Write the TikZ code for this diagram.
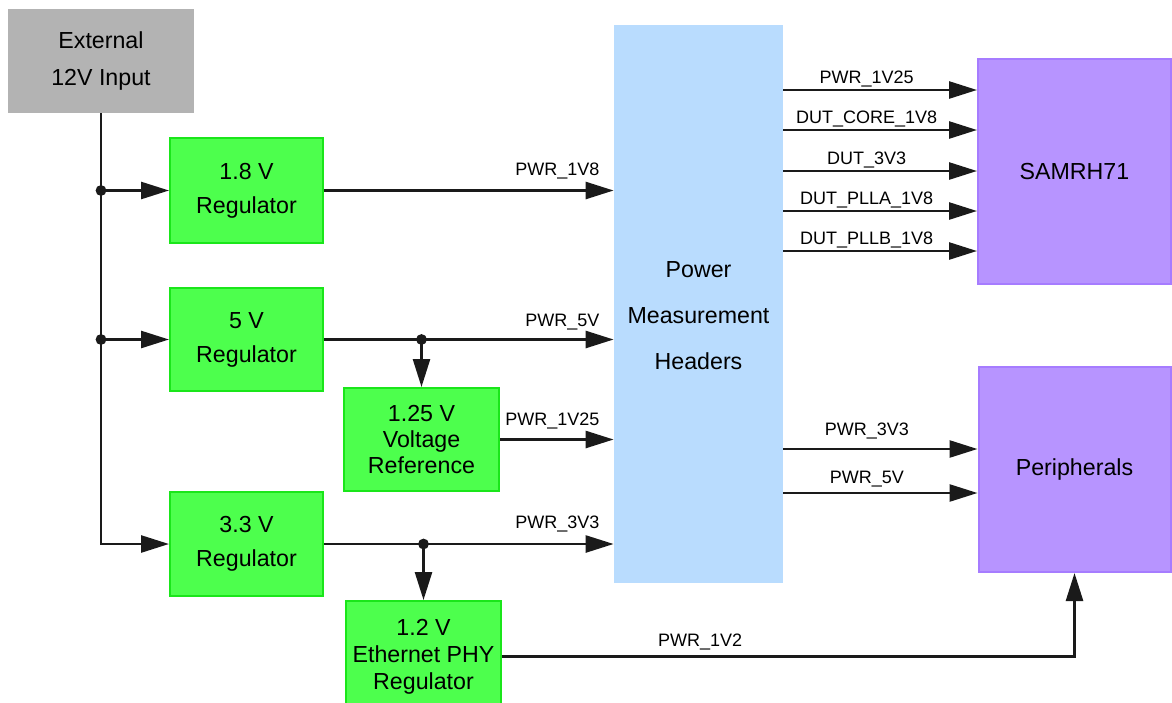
\documentclass[tikz,border=0pt]{standalone}
\usepackage{fontspec}
\setmainfont{Liberation Sans}
\usetikzlibrary{arrows.meta}
\definecolor{linec}{RGB}{26,26,26}
\definecolor{grayfill}{RGB}{179,179,179}
\definecolor{greenfill}{RGB}{77,255,77}
\definecolor{greenline}{RGB}{26,230,26}
\definecolor{bluefill}{RGB}{185,220,254}
\definecolor{purplefill}{RGB}{183,148,255}
\definecolor{purpleline}{RGB}{166,124,255}
\begin{document}
\begin{tikzpicture}[x=0.5pt,y=-0.5pt,
  boxtext/.style={font=\fontsize{11.6}{17}\selectfont, align=center, text=black},
  greenbox/.style={boxtext, draw=greenline, fill=greenfill, line width=1pt, inner sep=0pt},
  graybox/.style={boxtext, fill=grayfill, inner sep=0pt, font=\fontsize{11.6}{18.5}\selectfont},
  bluebox/.style={fill=bluefill, inner sep=0pt},
  purplebox/.style={boxtext, draw=purpleline, fill=purplefill, line width=1pt, inner sep=0pt},
  wire/.style={draw=linec, line width=1.3pt},
  arr/.style={wire, -{Triangle[length=14pt,width=8.5pt]}},
  lbl/.style={font=\fontsize{9}{11}\selectfont, inner sep=0pt, text=black},
  dotc/.style={fill=linec}
]
\useasboundingbox (0,0) rectangle (1172,702);
\fill[white] (0,0) rectangle (1172,702);

% boxes
\node[graybox, minimum width=93pt, minimum height=52pt] (ext) at (101,61) {External\\12V Input};
\node[greenbox, minimum width=76.5pt, minimum height=52.5pt] (reg18) at (246.5,190.5) {1.8 V\\Regulator};
\node[greenbox, minimum width=76.5pt, minimum height=51.5pt] (reg5) at (246.5,339.5) {5 V\\Regulator};
\node[greenbox, minimum width=76.5pt, minimum height=52pt] (reg33) at (246.5,544) {3.3 V\\Regulator};
\node[greenbox, minimum width=77.5pt, minimum height=51.5pt, font=\fontsize{11.6}{13}\selectfont] (ref125) at (421.5,439.5) {1.25 V\\Voltage\\Reference};
\node[greenbox, minimum width=77.5pt, minimum height=55.5pt, font=\fontsize{11.6}{13.5}\selectfont] (eth) at (423.5,656.5) {1.2 V\\Ethernet PHY\\Regulator};
\node[bluebox, minimum width=84.5pt, minimum height=279pt] (pm) at (698.5,304) {};
\node[boxtext, font=\fontsize{11.6}{23}\selectfont] (pmtext) at (698.5,316) {Power\\Measurement\\Headers};
\node[purplebox, minimum width=96.5pt, minimum height=112.5pt] (sam) at (1074.5,171.5) {SAMRH71};
\node[purplebox, minimum width=96pt, minimum height=102.5pt] (peri) at (1074.5,469.5) {Peripherals};

% input trunk
\coordinate (j1) at (ext.south |- reg18.west);
\coordinate (j2) at (ext.south |- reg5.west);
\draw[arr] (ext.south) |- (reg33.west);
\draw[arr] (j1) -- (reg18.west);
\draw[arr] (j2) -- (reg5.west);
\fill[dotc] (j1) circle (2.7pt);
\fill[dotc] (j2) circle (2.7pt);

% regulators to headers
\draw[arr] (reg18.east) -- (reg18.east -| pm.west)
  node[lbl, pos=1, anchor=base east, xshift=-6.5pt, yshift=7.5pt] {PWR\_1V8};
\draw[arr] (reg5.east) -- (reg5.east -| pm.west)
  node[lbl, pos=1, anchor=base east, xshift=-6.5pt, yshift=6.5pt] {PWR\_5V};
\draw[arr] (ref125.east) -- (ref125.east -| pm.west)
  node[lbl, pos=1, anchor=base east, xshift=-6.5pt, yshift=7pt] {PWR\_1V25};
\draw[arr] (reg33.east) -- (reg33.east -| pm.west)
  node[lbl, pos=1, anchor=base east, xshift=-6.5pt, yshift=8pt] {PWR\_3V3};

\coordinate (j3) at (ref125.north |- reg5.east);
\coordinate (j4) at (eth.north |- reg33.east);
\draw[arr] (j3) -- (ref125.north);
\draw[arr] (j4) -- (eth.north);
\fill[dotc] (j3) circle (2.7pt);
\fill[dotc] (j4) circle (2.7pt);

% headers to SAMRH71
\draw[arr] (pm.east |- 0,90) -- (sam.west |- 0,90)
  node[lbl, pos=0.43, anchor=base, yshift=3.5pt] {PWR\_1V25};
\draw[arr] (pm.east |- 0,130) -- (sam.west |- 0,130)
  node[lbl, pos=0.43, anchor=base, yshift=3.5pt] {DUT\_CORE\_1V8};
\draw[arr] (pm.east |- 0,171) -- (sam.west |- 0,171)
  node[lbl, pos=0.43, anchor=base, yshift=3.5pt] {DUT\_3V3};
\draw[arr] (pm.east |- 0,211) -- (sam.west |- 0,211)
  node[lbl, pos=0.43, anchor=base, yshift=3.5pt] {DUT\_PLLA\_1V8};
\draw[arr] (pm.east |- 0,251) -- (sam.west |- 0,251)
  node[lbl, pos=0.43, anchor=base, yshift=3.5pt] {DUT\_PLLB\_1V8};

% headers to peripherals
\draw[arr] (pm.east |- 0,449) -- (peri.west |- 0,449)
  node[lbl, pos=0.43, anchor=base, yshift=7pt] {PWR\_3V3};
\draw[arr] (pm.east |- 0,493) -- (peri.west |- 0,493)
  node[lbl, pos=0.43, anchor=base, yshift=5pt] {PWR\_5V};

% ethernet PHY to peripherals
\draw[arr] (eth.east) -- node[lbl, pos=0.346, anchor=base, yshift=5pt] {PWR\_1V2} (peri.south |- eth.east) -- (peri.south);
\end{tikzpicture}
\end{document}
